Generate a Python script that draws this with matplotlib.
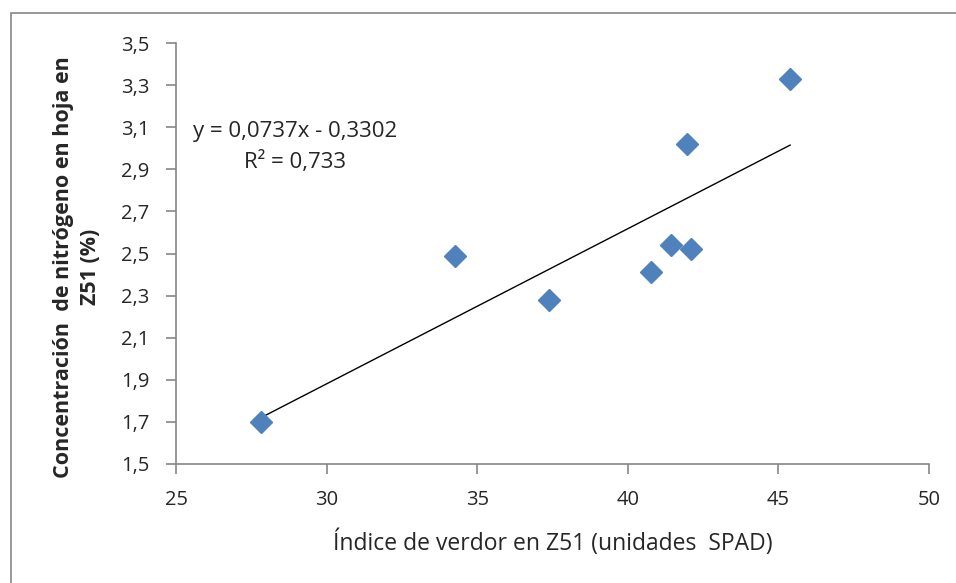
import numpy as np
import matplotlib
matplotlib.use("Agg")
import matplotlib.pyplot as plt
from matplotlib.patches import Rectangle
from matplotlib.ticker import FuncFormatter

# datos (SPAD vs N en hoja)
spad = [27.82, 34.26, 37.38, 40.77, 41.43, 41.97, 42.10, 45.39]
nitrogeno = [1.70, 2.49, 2.28, 2.41, 2.54, 3.02, 2.52, 3.33]

# linea de tendencia (ecuacion del grafico)
pendiente = 0.0737
intercepto = -0.3302
r2 = 0.733

x_ticks = [25, 30, 35, 40, 45, 50]
y_ticks = [1.5, 1.7, 1.9, 2.1, 2.3, 2.5, 2.7, 2.9, 3.1, 3.3, 3.5]

plt.rcParams['font.family'] = ['Open Sans', 'DejaVu Sans']

fig = plt.figure(figsize=(9.56, 5.83), dpi=100)
ax = fig.add_axes([176/956, 1 - 464/583, (929 - 176)/956, (464 - 43)/583])

# marco exterior del grafico
fig.patches.append(Rectangle((11/956, -0.1), 1.2, 1 - 13/583 + 0.1, transform=fig.transFigure,
                             fill=False, edgecolor='#868686', linewidth=1.2))

ax.plot(spad, nitrogeno, linestyle='none', marker='D', markersize=11,
        color='#4F81BD', markeredgecolor='#4F81BD', zorder=3)

xl = np.array([min(spad), max(spad)])
ax.plot(xl, pendiente * xl + intercepto, color='black', linewidth=1.0, zorder=2)

ax.set_xlim(25, 50)
ax.set_ylim(1.5, 3.5)
ax.set_xticks(x_ticks)
ax.set_yticks(y_ticks)
ax.yaxis.set_major_formatter(FuncFormatter(lambda v, p: f"{v:.1f}".replace('.', ',')))

for s in ['top', 'right']:
    ax.spines[s].set_visible(False)
for s in ['left', 'bottom']:
    ax.spines[s].set_color('#868686')
    ax.spines[s].set_linewidth(1.2)
ax.tick_params(direction='out', length=7, width=1.2, color='#868686',
               labelsize=14.5, labelcolor='#262626')
ax.tick_params(axis='y', pad=12)
ax.tick_params(axis='x', pad=12)

ax.text(0.158, 0.753, f"y = 0,0737x - 0,3302\nR² = {str(r2).replace('.', ',')}",
        transform=ax.transAxes, ha='center', va='center', fontsize=16,
        color='#262626', linespacing=1.5)

fig.text(553/956, 1 - 543/583, "Índice de verdor en Z51 (unidades  SPAD)", fontsize=16.5,
         color='#262626', ha='center', va='center')
fig.text(77/956, 1 - 267/583, "Concentración  de nitrógeno en hoja en\nZ51 (%)",
         rotation=90, ha='center', va='center', fontsize=15.5, fontweight='bold',
         color='#262626', linespacing=1.35, multialignment='center')

fig.savefig("out.png", dpi=100)
